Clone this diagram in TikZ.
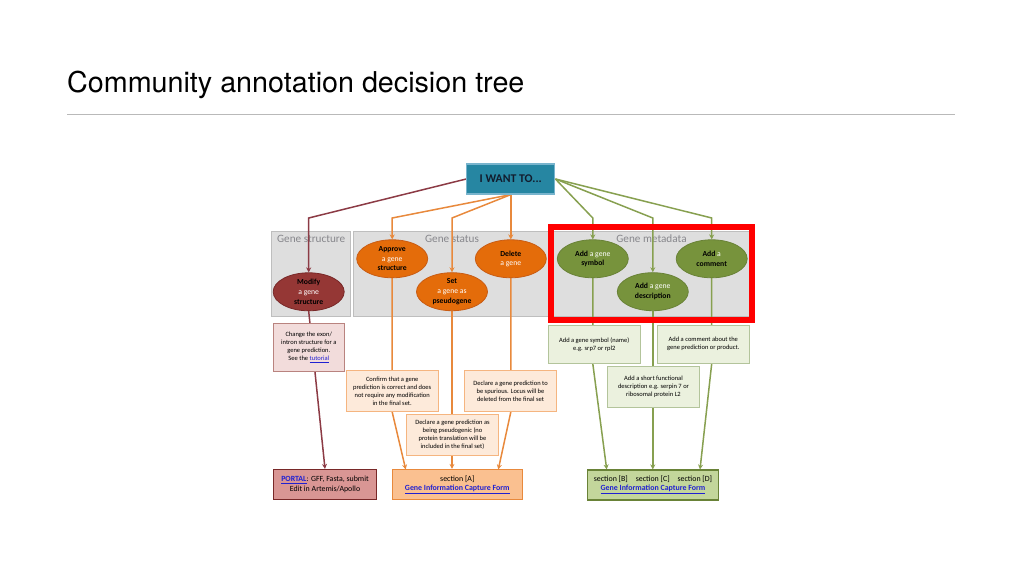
\documentclass[tikz,border=0pt]{standalone}
\usepackage{fontspec}
\setmainfont{Carlito}
\newfontfamily\titlefont{TeX Gyre Heros}
\usetikzlibrary{shapes.geometric, arrows.meta, backgrounds, positioning}
\definecolor{wantfill}{RGB}{38,134,162}
\definecolor{wantline}{RGB}{120,180,205}
\definecolor{wanttext}{RGB}{18,28,45}
\definecolor{panelfill}{RGB}{222,222,222}
\definecolor{panelline}{RGB}{190,190,190}
\definecolor{paneltext}{RGB}{135,135,140}
\definecolor{structfill}{RGB}{149,55,53}
\definecolor{structline}{RGB}{120,40,40}
\definecolor{structlink}{RGB}{140,59,69}
\definecolor{statusfill}{RGB}{228,108,10}
\definecolor{statusline}{RGB}{200,92,20}
\definecolor{statuslink}{RGB}{232,137,60}
\definecolor{metafill}{RGB}{119,147,60}
\definecolor{metaline}{RGB}{105,130,55}
\definecolor{metalink}{RGB}{135,160,80}
\definecolor{notepink}{RGB}{242,220,219}
\definecolor{notepinkline}{RGB}{185,131,127}
\definecolor{notepeach}{RGB}{253,234,218}
\definecolor{notepeachline}{RGB}{245,181,128}
\definecolor{notegreen}{RGB}{235,241,222}
\definecolor{notegreenline}{RGB}{179,196,155}
\definecolor{endpink}{RGB}{217,150,148}
\definecolor{endorange}{RGB}{250,192,144}
\definecolor{endgreen}{RGB}{195,214,155}
\definecolor{linkblue}{RGB}{32,32,210}
\definecolor{rulegray}{RGB}{185,185,185}

\begin{document}
\begin{tikzpicture}[x=1pt, y=-1pt,
	wantbox/.style={draw=wantline, fill=wantfill, line width=1.2, minimum width=88, minimum height=30, inner sep=0, text=wanttext, font=\bfseries\fontsize{11.8}{13}\selectfont},
	panel/.style={draw=panelline, fill=panelfill, line width=0.8},
	paneltitle/.style={text=paneltext, font=\fontsize{11.2}{12}\selectfont, inner sep=0},
	blob/.style={ellipse, minimum width=71, minimum height=38, inner sep=0, align=center, line width=0.8, font=\fontsize{7.7}{9.6}\selectfont},
	blobS/.style={blob, draw=structline, fill=structfill},
	blobA/.style={blob, draw=statusline, fill=statusfill},
	blobM/.style={blob, draw=metaline, fill=metafill},
	note/.style={inner sep=0, align=center, line width=0.8, font=\fontsize{6.5}{8}\selectfont},
	noteS/.style={note, draw=notepinkline, fill=notepink},
	noteA/.style={note, draw=notepeachline, fill=notepeach},
	noteM/.style={note, draw=notegreenline, fill=notegreen},
	endbox/.style={inner sep=0, align=center, line width=1.2, minimum height=30, font=\fontsize{7.9}{9.4}\selectfont},
	lnS/.style={draw=structlink, line width=1.5},
	lnA/.style={draw=statuslink, line width=1.5},
	lnM/.style={draw=metalink, line width=1.5},
	tip/.style={-{Stealth[length=5pt, width=5pt]}}]

	\useasboundingbox (0,0) rectangle (1023,575);

	\node [anchor=base west, inner sep=0, font=\titlefont\fontsize{28.7}{32}\selectfont] (title) at (67,93) {Community annotation decision tree};
	\draw [rulegray, line width=1] (67,115) -- (955,115);

	\node [wantbox] (want) at (510.8,179) {I WANT TO...};

	\begin{scope}
		\node [blobS] (modify) at (308.7,291.8) {\textbf{Modify}\\ \textcolor{white}{a gene}\\ \textbf{structure}};
		\node [blobA] (approve) at (392.2,258.8) {\textbf{Approve}\\ \textcolor{white}{a gene}\\ \textbf{structure}};
		\node [blobA] (setpseudo) at (452,291.7) {\textbf{Set}\\ \textcolor{white}{a gene as}\\ \textbf{pseudogene}};
		\node [blobA] (delete) at (510.8,258.8) {\textbf{Delete}\\ \textcolor{white}{a gene}};
		\node [blobM] (symbol) at (592.8,258.8) {\textbf{Add} \textcolor{white}{a gene}\\ \textbf{symbol}};
		\node [blobM] (descr) at (652.8,291.7) {\textbf{Add} \textcolor{white}{a gene}\\ \textbf{description}};
		\node [blobM] (comment) at (711.7,258.8) {\textbf{Add} \textcolor{white}{a}\\ \textbf{comment}};
	\end{scope}

	\begin{scope}
		\node [noteS, minimum width=71, minimum height=47.7] (exon) at (308.8,347.2) {Change the exon/\\intron structure for a\\gene prediction.\\See the \textcolor{linkblue}{\underline{tutorial}}};
		\node [noteA, minimum width=92.3, minimum height=41.7] (confirm) at (392.2,390.8) {Confirm that a gene\\prediction is correct and does\\not require any modification\\in the final set.};
		\node [noteA, minimum width=92.3, minimum height=41.7] (spurious) at (510.5,390.8) {Declare a gene prediction to\\be spurious. Locus will be\\deleted from the final set};
		\node [noteA, minimum width=91.6, minimum height=41] (pseudo) at (452.5,434.5) {Declare a gene prediction as\\being pseudogenic (no\\protein translation will be\\included in the final set)};
		\node [noteM, minimum width=91.7, minimum height=38.3] (symtext) at (594.2,344.2) {Add a gene symbol (name)\\e.g. srp7 or rpl2};
		\node [noteM, minimum width=92, minimum height=38.3] (comtext) at (703.3,344.2) {Add a comment about the\\gene prediction or product.};
		\node [noteM, minimum width=91.6, minimum height=41] (destext) at (653.5,387.2) {Add a short functional\\description e.g. serpin 7 or\\ribosomal protein L2};
	\end{scope}

	\begin{scope}
		\node [endbox, draw=structline, fill=endpink, minimum width=103.4] (portal) at (325,484.5) {\textcolor{linkblue}{\textbf{\underline{PORTAL}}}: GFF, Fasta, submit\\Edit in Artemis/Apollo};
		\node [endbox, draw=statuslink, fill=endorange, minimum width=130] (secA) at (457.3,484.5) {section [A]\\\textcolor{linkblue}{\textbf{\underline{Gene Information Capture Form}}}};
		\node [endbox, draw=metaline, fill=endgreen, minimum width=130.6] (secBCD) at (653,485) {section [B]\quad section [C]\quad section [D]\\\textcolor{linkblue}{\textbf{\underline{Gene Information Capture Form}}}};
	\end{scope}

	\coordinate (kS) at (308.7,218);
	\coordinate (kA) at (392.2,218);
	\coordinate (kP) at (452,218);
	\coordinate (kB) at (592.8,218);
	\coordinate (kC) at (652.8,218);
	\coordinate (kD) at (711.7,218);
	\coordinate (inA) at (405.7,469.5);
	\coordinate (inP) at (498.3,469.5);
	\coordinate (inB) at (606.7,469.5);
	\coordinate (inD) at (700,469.5);

	\begin{scope}[on background layer]
		\draw [panel] (271.7,231) rectangle (350.7,316);
		\draw [panel] (353,231) rectangle (551,316);
		\draw [panel] (553,231) rectangle (750,316);
		\node [paneltitle] at (311.2,238.5) {Gene structure};
		\node [paneltitle] at (452,238.5) {Gene status};
		\node [paneltitle] at (651.5,238.5) {Gene metadata};

		\draw [lnS, tip] (want.west) -- (kS) -- (modify.north);
		\draw [lnS, tip] (modify.south) -- (portal.north);

		\draw [lnA, tip] (want.south) -- (kA) -- (approve.north);
		\draw [lnA, tip] (want.south) -- (kP) -- (setpseudo.north);
		\draw [lnA, tip] (want.south) -- (delete.north);
		\draw [lnA, tip] (approve.south) -- (approve |- confirm.south) -- (inA);
		\draw [lnA, tip] (setpseudo.south) -- (setpseudo |- secA.north);
		\draw [lnA, tip] (delete.south) -- (delete |- spurious.south) -- (inP);

		\draw [lnM, tip] (want.east) -- (kB) -- (symbol.north);
		\draw [lnM, tip] (want.east) -- (kC) -- (descr.north);
		\draw [lnM, tip] (want.east) -- (kD) -- (comment.north);
		\draw [lnM, tip] (symbol.south) -- (symbol |- symtext.south) -- (inB);
		\draw [lnM, tip] (descr.south) -- (descr |- secBCD.north);
		\draw [lnM, tip] (comment.south) -- (comment |- comtext.south) -- (inD);
	\end{scope}

	\draw [red, line width=5.5] (551,227) rectangle (752,320);
\end{tikzpicture}
\end{document}
